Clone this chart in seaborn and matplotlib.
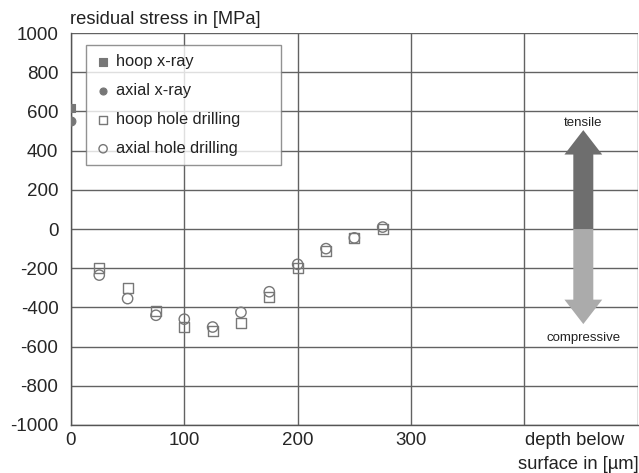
import matplotlib
matplotlib.use("Agg")
import matplotlib.pyplot as plt
import seaborn as sns

sns.set_theme(style="white")
plt.rcParams['font.family'] = ['Liberation Sans', 'DejaVu Sans']

# data
xray_depth = [0]
hoop_xray = [620]
axial_xray = [550]
hd_depth = [25, 50, 75, 100, 125, 150, 175, 200, 225, 250, 275]
hoop_hd = [-200, -300, -420, -500, -520, -480, -345, -200, -110, -45, 0]
axial_hd = [-235, -355, -440, -460, -500, -425, -320, -180, -100, -45, 10]
y_ticks = [-1000, -800, -600, -400, -200, 0, 200, 400, 600, 800, 1000]
x_ticks = [0, 100, 200, 300, 400, 500]
x_tick_labels = ["0", "100", "200", "300", "", ""]

fig = plt.figure(figsize=(6.39, 4.73), dpi=100)
ax = fig.add_axes([0.111, 0.1015, 0.887, 0.8285])

mcol = "#777777"
sns.scatterplot(x=xray_depth, y=hoop_xray, marker="s", color=mcol, s=40,
                edgecolor=mcol, linewidth=0.8, label="hoop x-ray", ax=ax, zorder=3)
sns.scatterplot(x=xray_depth, y=axial_xray, marker="o", color=mcol, s=40,
                edgecolor=mcol, linewidth=0.8, label="axial x-ray", ax=ax, zorder=3)
sns.scatterplot(x=hd_depth, y=hoop_hd, marker="s", facecolor="none", s=50,
                edgecolor=mcol, linewidth=1.0, label="hoop hole drilling", ax=ax, zorder=3)
sns.scatterplot(x=hd_depth, y=axial_hd, marker="o", facecolor="none", s=55,
                edgecolor=mcol, linewidth=1.0, label="axial hole drilling", ax=ax, zorder=3)

ax.set_xlim(0, 498)
ax.set_ylim(-1000, 1000)
ax.set_yticks(y_ticks)
ax.set_yticklabels([str(v) for v in y_ticks], fontsize=13.5)
ax.set_xticks(x_ticks)
ax.set_xticklabels(x_tick_labels, fontsize=13.5)
ax.grid(True, color="#626262", linewidth=1.0)
ax.set_axisbelow(True)
for side in ["top", "right"]:
    ax.spines[side].set_visible(False)
for side in ["left", "bottom"]:
    ax.spines[side].set_color("#555555")
    ax.spines[side].set_linewidth(1.0)
ax.tick_params(axis="y", length=6, color="#626262", pad=3)
ax.tick_params(axis="x", length=0, pad=5)
ax.set_xlabel("")
ax.set_ylabel("")

ax.text(-0.002, 1.012, "residual stress in [MPa]", transform=ax.transAxes,
        fontsize=13.2, ha="left", va="bottom", color="#222222")
fig.text(525 / 639, 1 - 440 / 473, "depth below", fontsize=13.2, ha="left",
         va="center", color="#222222")
fig.text(518 / 639, 1 - 464 / 473, "surface in [µm]", fontsize=13.2, ha="left",
         va="center", color="#222222")

# arrows
ax.annotate("", xy=(452, 505), xytext=(452, 0),
            arrowprops=dict(arrowstyle="simple,head_length=1.1,head_width=1.7,tail_width=0.9",
                            color="#6e6e6e", lw=0, shrinkA=0, shrinkB=0,
                            mutation_scale=16))
ax.annotate("", xy=(452, -485), xytext=(452, 0),
            arrowprops=dict(arrowstyle="simple,head_length=1.1,head_width=1.7,tail_width=0.9",
                            color="#ababab", lw=0, shrinkA=0, shrinkB=0,
                            mutation_scale=16))
ax.text(452, 540, "tensile", fontsize=9.5, ha="center", va="center", color="#222222")
ax.text(452, -556, "compressive", fontsize=9.5, ha="center", va="center", color="#222222")

leg = ax.legend(loc="upper left", bbox_to_anchor=(0.0264, 0.681, 0.345, 0.288),
                mode="expand", fontsize=11.8,
                frameon=True, fancybox=False, labelspacing=0.85, handletextpad=0.3,
                handlelength=1.0, borderpad=0.55, markerscale=0.8, borderaxespad=0)
leg.get_frame().set_edgecolor("#777777")
leg.get_frame().set_linewidth(1.0)
for t in leg.get_texts():
    t.set_color("#222222")

fig.savefig("out.png", dpi=100)
